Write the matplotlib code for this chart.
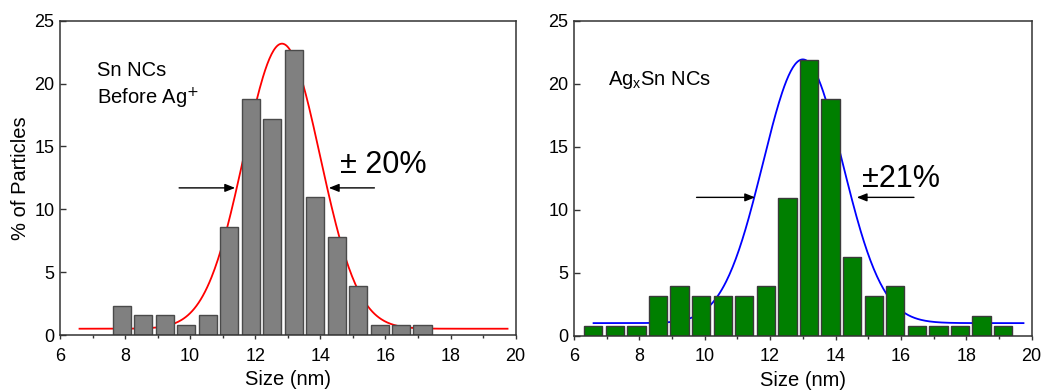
import numpy as np
import matplotlib
matplotlib.use("Agg")
import matplotlib.pyplot as plt
from matplotlib.ticker import MultipleLocator

plt.rcParams["font.family"] = ["Liberation Sans", "DejaVu Sans"]

# size histograms (% of particles per bin)
sn_centers = [7.9, 8.56, 9.22, 9.88, 10.54, 11.2, 11.86, 12.52, 13.18,
              13.84, 14.5, 15.16, 15.82, 16.48, 17.14]
sn_pct = [2.34, 1.56, 1.56, 0.78, 1.56, 8.59, 18.75, 17.19, 22.66,
          10.94, 7.81, 3.91, 0.78, 0.78, 0.78]

agsn_centers = [6.59, 7.25, 7.91, 8.57, 9.23, 9.89, 10.55, 11.21, 11.87,
                12.53, 13.19, 13.85, 14.51, 15.17, 15.83, 16.49, 17.15,
                17.81, 18.47, 19.13]
agsn_pct = [0.78, 0.78, 0.78, 3.13, 3.91, 3.13, 3.13, 3.13, 3.91, 10.94,
            21.88, 18.75, 6.25, 3.13, 3.91, 0.78, 0.78, 0.78, 1.56, 0.78]

bar_width = 0.56

# gaussian fits: (baseline, amplitude, centre, sigma)
sn_fit = (0.5, 22.67, 12.82, 1.17)
agsn_fit = (1.0, 20.93, 13.0, 1.22)
fit_range = (6.6, 19.75)


def gauss(x, y0, a, xc, s):
    return y0 + a * np.exp(-(x - xc) ** 2 / (2 * s ** 2))


def style_axes(ax):
    ax.set_xlim(6, 20)
    ax.set_ylim(0, 25)
    ax.xaxis.set_major_locator(MultipleLocator(2))
    ax.xaxis.set_minor_locator(MultipleLocator(1))
    ax.yaxis.set_major_locator(MultipleLocator(5))
    ax.tick_params(axis="x", which="major", direction="out", length=3,
                   width=1, labelsize=13, color="#333333", pad=6)
    ax.tick_params(axis="x", which="minor", direction="out", length=2,
                   width=1, color="#333333")
    ax.tick_params(axis="y", which="major", direction="in", length=4,
                   width=1, labelsize=13, color="#333333", pad=4)
    for sp in ax.spines.values():
        sp.set_color("#333333")
        sp.set_linewidth(1.1)
    ax.set_xlabel("Size (nm)", fontsize=14.5, labelpad=4)


def fwhm_arrows(ax, x_left, x_tip_l, x_tip_r, x_right, y):
    props = dict(arrowstyle="-|>,head_length=0.5,head_width=0.2",
                 color="black", lw=1, mutation_scale=12,
                 shrinkA=0, shrinkB=0)
    ax.annotate("", xy=(x_tip_l, y), xytext=(x_left, y), arrowprops=props)
    ax.annotate("", xy=(x_tip_r, y), xytext=(x_right, y), arrowprops=props)


fig = plt.figure(figsize=(10.58, 3.91), dpi=100)
ax1 = fig.add_axes([0.0567, 0.1432, 0.4307, 0.804])
ax2 = fig.add_axes([0.5425, 0.1414, 0.4326, 0.8056])

xs = np.linspace(*fit_range, 400)

# Sn NCs before Ag+
ax1.plot(xs, gauss(xs, *sn_fit), color="red", lw=1.3, zorder=1)
ax1.bar(sn_centers, sn_pct, width=bar_width, color="#808080",
        edgecolor="#4a4a4a", linewidth=1, zorder=2)
style_axes(ax1)
ax1.set_ylabel("% of Particles", fontsize=14.5, labelpad=3)
ax1.text(7.14, 21.0, "Sn NCs", fontsize=14.5, va="center")
ax1.text(7.14, 18.8, "Before Ag$^{+}$", fontsize=14.5, va="center")
fwhm_arrows(ax1, 9.66, 11.38, 14.26, 15.66, 11.7)
ax1.text(14.6, 12.9, "\u00b1 20%", fontsize=22, va="baseline")

# AgxSn NCs
ax2.plot(xs, gauss(xs, *agsn_fit), color="blue", lw=1.3, zorder=1)
ax2.bar(agsn_centers, agsn_pct, width=bar_width, color="#007f00",
        edgecolor="#3a3a3a", linewidth=1, zorder=2)
style_axes(ax2)
ax2.text(7.05, 20.3, "Ag$_{\\mathregular{x}}$Sn NCs", fontsize=14.5,
         va="center")
fwhm_arrows(ax2, 9.75, 11.54, 14.65, 16.4, 10.98)
ax2.text(14.8, 11.83, "\u00b121%", fontsize=22, va="baseline")

fig.savefig("out.png", dpi=100)
